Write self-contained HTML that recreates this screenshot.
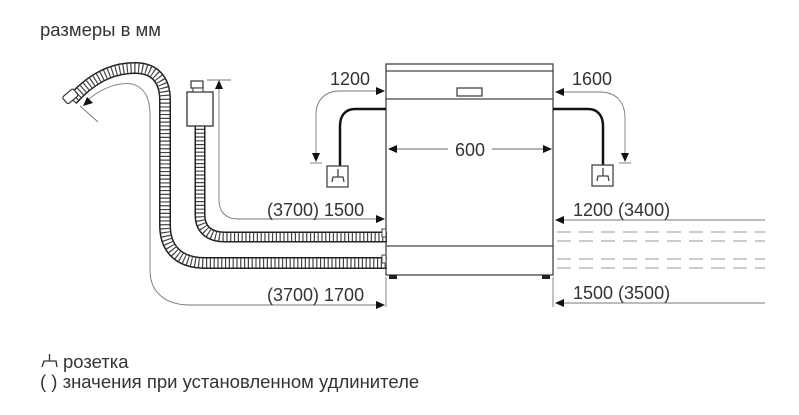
<!DOCTYPE html>
<html><head><meta charset="utf-8"><style>
html,body{margin:0;padding:0;background:#fff;}
svg{display:block;}
text{font-family:"Liberation Sans",sans-serif;fill:#333;}
</style></head><body>
<svg width="799" height="415" viewBox="0 0 799 415" xmlns="http://www.w3.org/2000/svg">
<text x="40" y="36" font-size="18.5">размеры в мм</text>

<!-- drain hose -->
<g fill="none">
<path id="dh" d="M72,100 C90,80 110,68 135,68 C155,68 165,80 165,100 L165,225 C165,250 180,263 205,263 L387,263"/>
<use href="#dh" stroke="#222" stroke-width="12"/>
<use href="#dh" stroke="#fff" stroke-width="9"/>
<use href="#dh" stroke="#444" stroke-width="9" stroke-dasharray="1.2 2.6"/>
<!-- inlet hose -->
<path id="ih" d="M200,125 L200,215 C200,230 210,237 225,237 L387,237"/>
<use href="#ih" stroke="#222" stroke-width="11"/>
<use href="#ih" stroke="#fff" stroke-width="8"/>
<use href="#ih" stroke="#444" stroke-width="8" stroke-dasharray="1.2 2.6"/>
</g>
<!-- drain nozzle -->
<rect x="63" y="92" width="14" height="9" rx="2" transform="rotate(-40 70 96)" fill="#fff" stroke="#333" stroke-width="1.2"/>
<!-- inlet valve -->
<rect x="187" y="92" width="26" height="34" fill="#fff" stroke="#333" stroke-width="1.3"/>
<rect x="191" y="81" width="12" height="7" fill="#fff" stroke="#333" stroke-width="1.2"/>
<rect x="193" y="88" width="10" height="4" fill="#fff" stroke="#333" stroke-width="1"/>

<!-- thin dimension lines -->
<g fill="none" stroke="#777" stroke-width="0.9">
<line x1="207" y1="80" x2="231" y2="80"/>
<path d="M219,82 L219,200 C219,212 226,219 238,219 L383,219" />
<path d="M86,102 C100,88 118,82 132,84 C146,88 150,100 150,115 L150,270 C150,292 165,305 190,305 L383,305"/>
<line x1="80" y1="106" x2="98" y2="122"/>
<path d="M383,91 L340,91 C325,91 316,100 316,115 L316,160"/>
<line x1="310" y1="163" x2="322" y2="163"/>
<path d="M558,92 L600,92 C616,92 625,102 625,118 L625,160"/>
<line x1="619" y1="163" x2="631" y2="163"/>
<line x1="558" y1="220" x2="765" y2="220"/>
<line x1="558" y1="303" x2="765" y2="303"/>
<line x1="386" y1="277" x2="386" y2="307"/>
<line x1="553" y1="277" x2="553" y2="307"/>
</g>
<!-- arrowheads -->
<g fill="#111">
<path d="M219,80 l-4,9 l8,0 z"/>
<path d="M385,219 l-9,-4 l0,8 z"/>
<path d="M385,305 l-9,-4 l0,8 z"/>
<path d="M385,91 l-9,-4 l0,8 z"/>
<path d="M316,162 l-4,-9 l8,0 z"/>
<path d="M555,92 l9,-4 l0,8 z"/>
<path d="M625,162 l-4,-9 l8,0 z"/>
<path d="M555,220 l9,-4 l0,8 z"/>
<path d="M555,303 l9,-4 l0,8 z"/>
<path d="M83,106 l4,-9 l6,6 z"/>
</g>

<!-- dashed lines right -->
<g stroke="#999" stroke-width="1" stroke-dasharray="14 8">
<line x1="557" y1="232" x2="765" y2="232"/>
<line x1="557" y1="241" x2="765" y2="241"/>
<line x1="557" y1="259" x2="765" y2="259"/>
<line x1="557" y1="268" x2="765" y2="268"/>
</g>

<!-- dishwasher -->
<g fill="none" stroke="#444" stroke-width="1.3">
<rect x="386" y="64" width="167" height="211"/>
<line x1="386" y1="71" x2="553" y2="71"/>
<line x1="386" y1="99" x2="553" y2="99"/>
<line x1="386" y1="246" x2="553" y2="246"/>
<rect x="457" y="88" width="25" height="8"/>
</g>
<rect x="389" y="275" width="8" height="4" fill="#222"/>
<rect x="542" y="275" width="8" height="4" fill="#222"/>
<rect x="382" y="229" width="4" height="8" fill="#fff" stroke="#444"/>
<rect x="382" y="255" width="4" height="8" fill="#fff" stroke="#444"/>

<!-- 600 -->
<line x1="390" y1="149" x2="448" y2="149" stroke="#666"/>
<line x1="492" y1="149" x2="549" y2="149" stroke="#666"/>
<path d="M388,149 l9,-4 l0,8 z M552,149 l-9,-4 l0,8 z" fill="#111"/>
<text x="470" y="156" font-size="18" text-anchor="middle">600</text>

<!-- power cords -->
<g fill="none" stroke="#111" stroke-width="2.5">
<path d="M386,109 L355,109 C345,109 340,116 340,126 L340,166"/>
<path d="M553,109 L588,109 C598,109 603,116 603,126 L603,165"/>
</g>
<g fill="none" stroke="#444" stroke-width="1.3">
<rect x="327" y="166" width="21" height="21"/>
<rect x="592" y="165" width="21" height="21"/>
<path d="M332,182 L333,177 L343,177 L344,182 M338,169 L338,177"/>
<path d="M597,181 L598,176 L608,176 L609,181 M603,168 L603,176"/>
</g>

<!-- labels -->
<g font-size="18">
<text x="330" y="85">1200</text>
<text x="572" y="85">1600</text>
<text x="267" y="216">(3700) 1500</text>
<text x="267" y="301">(3700) 1700</text>
<text x="573" y="216">1200 (3400)</text>
<text x="573" y="299">1500 (3500)</text>
</g>
<g font-size="18.5">
<text x="63" y="368">розетка</text>
<text x="40" y="388">( ) значения при установленном удлинителе</text>
</g>
<path d="M42,367 L44,361 L56,361 L57,367 M49.5,354 L49.5,361" fill="none" stroke="#333" stroke-width="1.3"/>
</svg>
</body></html>
